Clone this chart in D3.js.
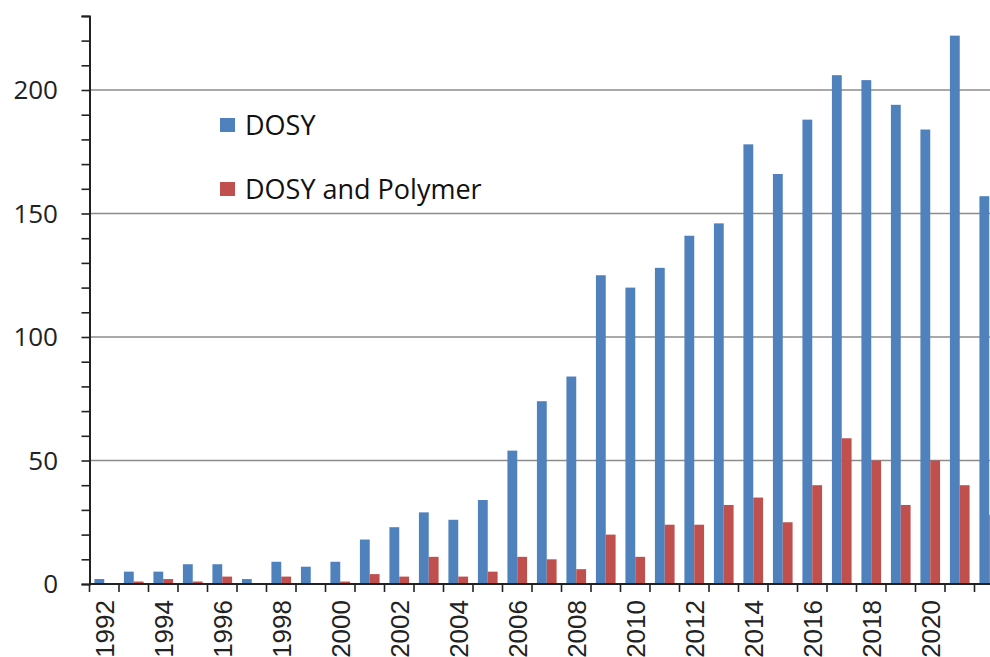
<!DOCTYPE html>
<html>
<head>
<meta charset="utf-8">
<script src="https://cdn.jsdelivr.net/npm/d3@7"></script>
<style>
  html, body { margin: 0; padding: 0; background: #fff; overflow: hidden; }
  svg { display: block; }
</style>
</head>
<body>
<svg id="chart" width="990" height="657"></svg>
<script>
const years = [1992,1993,1994,1995,1996,1997,1998,1999,2000,2001,2002,2003,2004,2005,2006,2007,2008,2009,2010,2011,2012,2013,2014,2015,2016,2017,2018,2019,2020,2021,2022];
const dosy = [2,5,5,8,8,2,9,7,9,18,23,29,26,34,54,74,84,125,120,128,141,146,178,166,188,206,204,194,184,222,157];
const dosyPolymer = [0,1,2,1,3,0,3,0,1,4,3,11,3,5,11,10,6,20,11,24,24,32,35,25,40,59,50,32,50,40,28];
const seriesNames = ["DOSY", "DOSY and Polymer"];
const seriesColors = ["#4F81BD", "#C0504D"];
const yMajorTicks = [0, 50, 100, 150, 200];
const yMinorTicks = d3.range(0, 231, 10);
const xLabelYears = [1992,1994,1996,1998,2000,2002,2004,2006,2008,2010,2012,2014,2016,2018,2020];

const svg = d3.select("#chart");
const left = 89.5, bandW = 29.5, baseY = 584, unit = 2.47;

const x = d3.scaleBand().domain(years).range([left, left + bandW * years.length]).padding(0);
const x1 = d3.scaleBand().domain(seriesNames).range([0, x.bandwidth()]).paddingInner(0).paddingOuter(0.5);
const y = d3.scaleLinear().domain([0, 230]).range([baseY, baseY - 230 * unit]);

// gridlines
svg.append("g").selectAll("line").data(yMajorTicks.filter(d => d > 0)).join("line")
  .attr("x1", left).attr("x2", 990)
  .attr("y1", d => y(d)).attr("y2", d => y(d))
  .attr("stroke", "#8c8c8c").attr("stroke-width", 1.3);

// bars
const data = years.map((yr, i) => ({ year: yr, vals: [dosy[i], dosyPolymer[i]] }));
const g = svg.append("g").selectAll("g").data(data).join("g")
  .attr("transform", d => `translate(${x(d.year)},0)`);
g.selectAll("rect").data(d => d.vals.map((v, j) => ({ key: seriesNames[j], v, j }))).join("rect")
  .attr("x", d => x1(d.key))
  .attr("width", x1.bandwidth())
  .attr("y", d => y(d.v))
  .attr("height", d => y(0) - y(d.v))
  .attr("fill", d => seriesColors[d.j]);

// y axis
const yAxisMinor = d3.axisLeft(y).tickValues(yMinorTicks).tickSize(8).tickFormat("");
const yg = svg.append("g").attr("transform", `translate(${left},0)`).call(yAxisMinor);
yg.select(".domain").attr("stroke", "#222").attr("stroke-width", 2);
yg.selectAll(".tick line").attr("stroke", "#222").attr("stroke-width", 1.6);

svg.append("g").selectAll("text").data(yMajorTicks).join("text")
  .attr("x", 58).attr("y", d => y(d))
  .attr("dy", "0.36em")
  .attr("text-anchor", "end")
  .attr("font-family", "'Open Sans', Lato, sans-serif")
  .attr("font-size", 26)
  .attr("fill", "#222")
  .text(d => d);

// x axis line + ticks at band boundaries
svg.append("line").attr("x1", left).attr("x2", 990).attr("y1", baseY).attr("y2", baseY)
  .attr("stroke", "#222").attr("stroke-width", 2);
svg.append("g").selectAll("line").data(years).join("line")
  .attr("x1", d => x(d)).attr("x2", d => x(d))
  .attr("y1", baseY).attr("y2", baseY + 8)
  .attr("stroke", "#222").attr("stroke-width", 1.6);

// x labels
const xAxis = d3.axisBottom(x).tickValues(xLabelYears).tickSize(0);
const xg = svg.append("g").attr("transform", `translate(0,${baseY})`).call(xAxis);
xg.select(".domain").remove();
xg.selectAll("text")
  .attr("font-family", "'Liberation Sans', Arial, sans-serif")
  .attr("font-size", 26)
  .attr("fill", "#222")
  .attr("text-anchor", "end")
  .attr("transform", "translate(0,16) rotate(-90)")
  .attr("x", 0).attr("y", 0).attr("dy", "0.36em");

// legend
const leg = svg.append("g").selectAll("g").data(seriesNames).join("g")
  .attr("transform", (d, i) => `translate(220,${125 + i * 64})`);
leg.append("rect").attr("x", 0).attr("y", -7).attr("width", 15).attr("height", 14)
  .attr("fill", (d, i) => seriesColors[i]);
leg.append("text").attr("x", 25).attr("y", 0).attr("dy", "0.36em")
  .attr("font-family", "'Open Sans', Lato, sans-serif")
  .attr("font-size", 27)
  .attr("fill", "#111")
  .text(d => d);
</script>
</body>
</html>
